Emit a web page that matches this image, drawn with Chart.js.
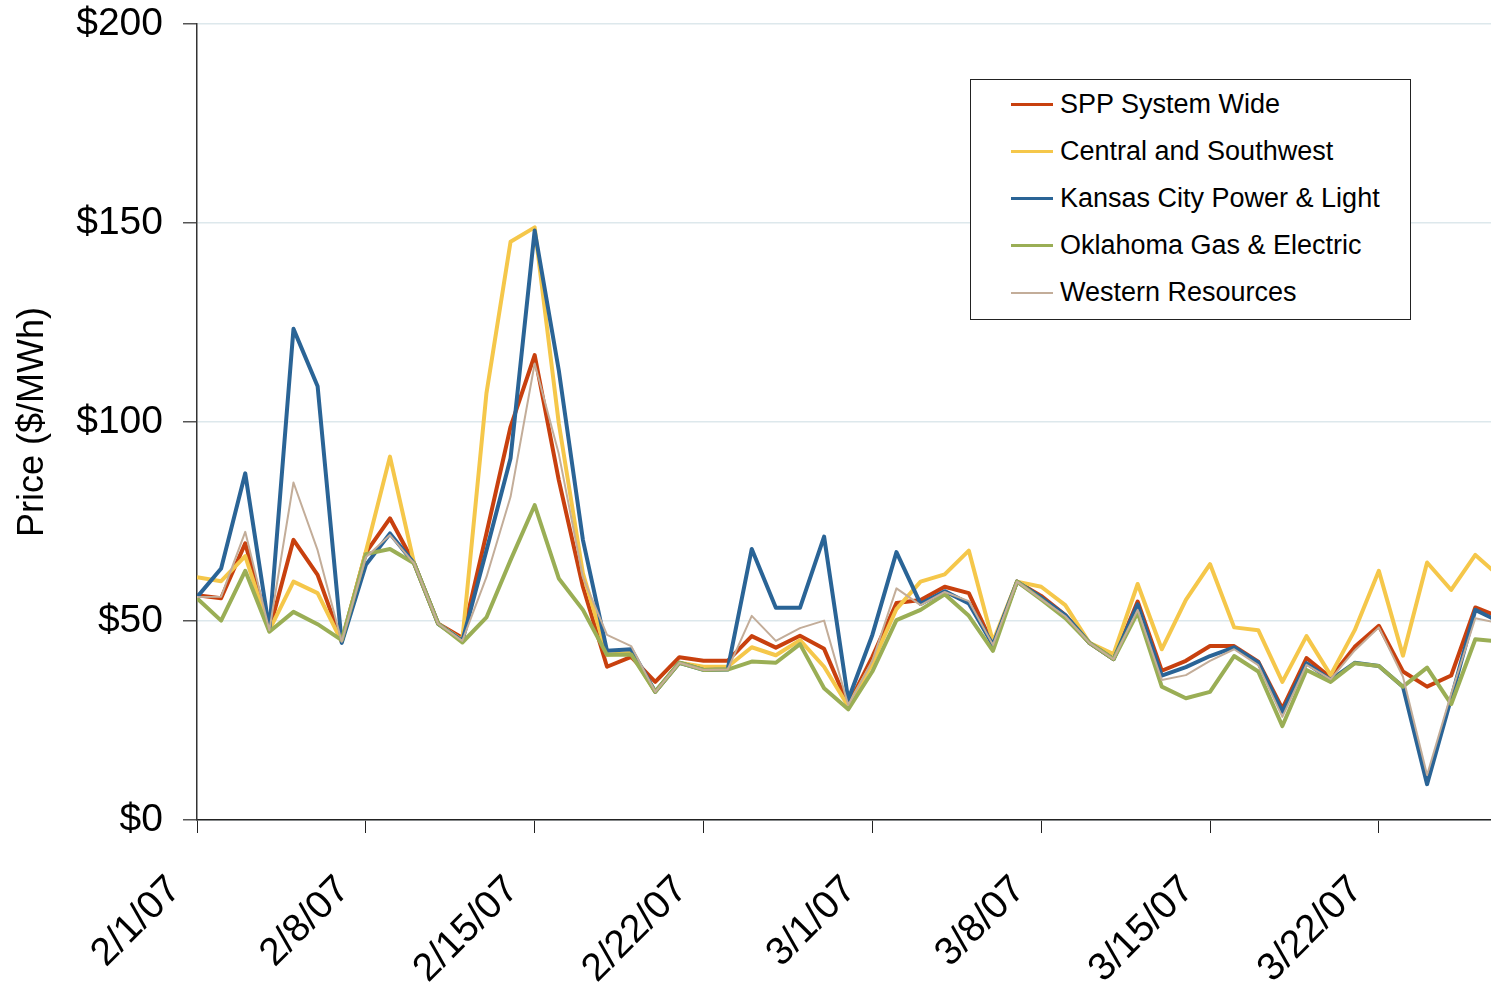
<!DOCTYPE html>
<html>
<head>
<meta charset="utf-8">
<script src="https://cdn.jsdelivr.net/npm/chart.js@4.4.1/dist/chart.umd.min.js"></script>
<style>
    body { margin: 0; background: #fff; overflow: hidden; }
    #wrap { position: relative; width: 1491px; height: 989px; }
    #legend {
        position: absolute; left: 970px; top: 79px; width: 439px; height: 239px;
        border: 1px solid #222; background: #fff;
        font-family: 'Liberation Sans', Arial, sans-serif; font-size: 27px; color: #000;
    }
    .item { position: absolute; left: 0; height: 47px; display: flex; align-items: center; }
    .swatch { display: inline-block; margin-left: 40px; width: 42px; }
    .item span.txt { margin-left: 7px; white-space: nowrap; }
</style>
</head>
<body>
<div id="wrap">
    <canvas id="chart"></canvas>
    <div id="legend"></div>
</div>
<script>
// days since 2/1/07
const days = [];
for (let i = 0; i <= 54; i++) days.push(i);

const seriesNames = [
    'SPP System Wide',
    'Central and Southwest',
    'Kansas City Power & Light',
    'Oklahoma Gas & Electric',
    'Western Resources',
];

const spp = [56.5, 55.7, 69.5, 47.7, 70.4, 61.6, 44.8, 67.2, 75.8, 64.5,
    49.3, 45.8, 72, 98.8, 116.8, 85.4, 58.6, 38.5, 41, 34.7,
    40.9, 40, 40, 46.2, 43.3, 46.3, 43, 28.9, 41, 54.5,
    55.3, 58.6, 57, 44, 59.9, 56.3, 51.5, 44.5, 40.4, 54.9,
    37.5, 40, 43.7, 43.7, 39.8, 28, 40.7, 35.8, 43.5, 48.8,
    37.3, 33.5, 36.3, 53.4, 51];
const csw = [61, 60, 66.3, 47.7, 59.9, 57, 44.8, 67.4, 91.3, 64.5,
    49.3, 45.2, 107.2, 145.3, 148.9, 99.7, 62, 41.5, 42, 32.2,
    39.5, 38.5, 38.5, 43.4, 41.4, 45.2, 38.5, 28.6, 39.4, 53,
    59.9, 61.7, 67.7, 44.8, 59.9, 58.6, 54, 44.5, 41.7, 59.3,
    42.9, 55.3, 64.3, 48.4, 47.7, 34.7, 46.2, 36.4, 47.7, 62.6,
    41.3, 64.7, 57.8, 66.6, 61.2];
const kcpl = [56, 63.2, 87.1, 47.7, 123.4, 109, 44.5, 64.1, 72, 64.5,
    49.3, 45, 67.7, 90.9, 148.1, 113, 70.4, 42.5, 42.9, 32.2,
    39.5, 37.7, 37.8, 68.1, 53.3, 53.3, 71.2, 30.2, 46.5, 67.3,
    54.3, 57.5, 54.4, 44, 59.9, 55.9, 51.5, 44.5, 40.4, 54.2,
    36.3, 38.4, 41.2, 43.4, 39.6, 27.2, 39.4, 35.2, 39.5, 38.7,
    33.5, 9, 30.6, 52.8, 49.8];
const oge = [55.7, 50.1, 62.6, 47.3, 52.3, 49.2, 45.2, 66.8, 68.1, 64.5,
    49.3, 44.6, 50.9, 65.3, 79.1, 60.7, 52.8, 41.5, 41.6, 32.2,
    39.5, 37.7, 37.8, 39.8, 39.5, 44.2, 33.1, 27.8, 37.3, 50.2,
    52.8, 56.7, 51.3, 42.5, 59.9, 55.4, 50.7, 44.5, 40.4, 52.1,
    33.5, 30.6, 32.2, 41.2, 37.3, 23.6, 37.7, 34.7, 39.4, 38.7,
    33.5, 38.3, 29.1, 45.4, 44.8];
const wr = [56, 56.1, 72.4, 47.7, 84.8, 67.8, 44.8, 66, 71.6, 64.5,
    49.3, 45, 61, 81.2, 114.7, 92, 61, 46.5, 43.7, 32.2,
    39.5, 37.7, 37.8, 51.3, 45, 48.2, 50.1, 28.9, 40, 58.2,
    54, 57.3, 55, 44, 59.9, 55.5, 51.2, 44.5, 40.4, 52.8,
    35.2, 36.4, 40, 42.9, 38.9, 25.9, 39, 35.4, 42.6, 48.4,
    36, 11.3, 31.8, 50.7, 49.4];

const yTicks = [0, 50, 100, 150, 200];
const xTicks = [0, 7, 14, 21, 28, 35, 42, 49];

const colors = ['#c8400e', '#f5c74a', '#2a6496', '#9aae55', '#c3ad99'];
const widths = [4, 4, 4, 4, 2];
const values = [spp, csw, kcpl, oge, wr];

Chart.defaults.font.family = "'Liberation Sans', Arial, sans-serif";
Chart.defaults.color = '#000';

const datasets = seriesNames.map((name, i) => ({
    label: name,
    data: values[i].map((v, j) => ({ x: days[j], y: v })),
    borderColor: colors[i],
    backgroundColor: colors[i],
    borderWidth: widths[i],
    pointRadius: 0,
    tension: 0,
    borderJoinStyle: 'round',
    order: seriesNames.length - 1 - i,
}));

function fmtDate(v) {
    const d = new Date(2007, 1, 1 + v);
    return (d.getMonth() + 1) + '/' + d.getDate() + '/07';
}

new Chart(document.getElementById('chart'), {
    type: 'line',
    data: { datasets: datasets },
    options: {
        responsive: true,
        maintainAspectRatio: false,
        animation: false,
        devicePixelRatio: 1,
        layout: { padding: { top: 24, right: 0, left: 0, bottom: 0 } },
        plugins: {
            legend: { display: false },
            tooltip: { enabled: false },
        },
        scales: {
            x: {
                type: 'linear',
                min: 0,
                max: 53.65,
                afterFit: (s) => { s.height = 169; },
                afterBuildTicks: (s) => {
                    s.ticks = xTicks.map(v => ({ value: v }));
                },
                ticks: {
                    autoSkip: false,
                    maxRotation: 45,
                    minRotation: 45,
                    padding: 34,
                    labelOffset: -22,
                    font: { size: 39 },
                    callback: (v) => fmtDate(v),
                },
                grid: {
                    drawOnChartArea: false,
                    tickLength: 13,
                    tickColor: '#222',
                },
                border: { color: '#222', width: 1.5 },
            },
            y: {
                min: 0,
                max: 200,
                afterFit: (s) => {
                    s.width = 197;
                    s.paddingTop = 0;
                    s.paddingBottom = 0;
                },
                afterBuildTicks: (s) => {
                    s.ticks = yTicks.map(v => ({ value: v }));
                },
                ticks: {
                    padding: 20,
                    font: { size: 39 },
                    callback: (v) => '$' + v,
                },
                grid: {
                    color: '#dde8ec',
                    lineWidth: 1.5,
                    tickLength: 14,
                    tickColor: '#555',
                },
                border: { color: '#333', width: 1.5 },
                title: {
                    display: true,
                    text: 'Price ($/MWh)',
                    font: { size: 36 },
                    padding: { top: 11, bottom: 0 },
                },
            },
        },
    },
});

// legend box drawn as html from the datasets
const legend = document.getElementById('legend');
datasets.forEach((ds, i) => {
    const row = document.createElement('div');
    row.className = 'item';
    row.style.top = (1 + i * 47) + 'px';
    const sw = document.createElement('span');
    sw.className = 'swatch';
    sw.style.borderTop = (i === 4 ? 2 : 3) + 'px solid ' + ds.borderColor;
    const txt = document.createElement('span');
    txt.className = 'txt';
    txt.textContent = ds.label;
    row.appendChild(sw);
    row.appendChild(txt);
    legend.appendChild(row);
});
</script>
</body>
</html>
